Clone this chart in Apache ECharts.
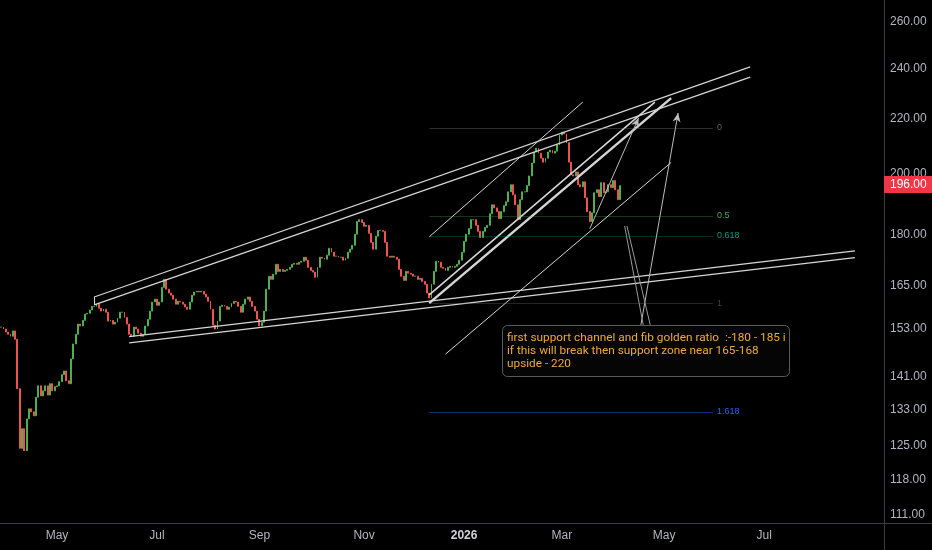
<!DOCTYPE html>
<html>

<head>
    <meta charset="UTF-8">
    <script src="https://cdn.jsdelivr.net/npm/echarts@6/dist/echarts.min.js"></script>
</head>

<body style="margin:0; background-color:#000000;">
    <div id="main" style="height:550px;width:932px"></div>
    <script type="text/javascript">
        // 日收盘价 (从 2025-03-28 起, 每个交易日一根)
        var closes = [
            153.5, 153.0, 152.2, 151.6, 151.1, 152.5, 150.3, 138.0, 124.5, 128.8,
            124.0, 131.0, 133.3, 132.6, 131.7, 136.0, 138.7, 136.3, 137.5, 138.7,
            136.5, 139.2, 137.5, 138.5, 138.7, 139.7, 141.4, 142.3, 139.9, 139.2,
            145.3, 149.1, 151.6, 154.3, 153.8, 155.3, 157.0, 157.2, 158.1, 159.1,
            159.1, 159.7, 158.6, 157.8, 158.3, 157.5, 155.1, 155.3, 154.3, 154.8,
            155.9, 157.5, 157.5, 156.1, 154.3, 151.6, 151.1, 153.5, 153.0, 151.9,
            151.1, 151.6, 153.8, 155.6, 157.8, 160.3, 161.1, 159.4, 160.3, 164.4,
            166.7, 163.9, 162.8, 162.2, 161.1, 159.7, 160.5, 160.3, 159.7, 158.9,
            158.3, 160.3, 162.2, 163.1, 163.3, 163.1, 163.3, 162.5, 161.7, 160.5,
            158.3, 154.0, 153.0, 155.1, 159.1, 159.4, 159.1, 158.3, 158.9, 159.9,
            160.5, 160.3, 159.1, 157.5, 159.7, 161.1, 161.7, 160.5, 159.1, 157.8,
            155.6, 153.8, 154.8, 157.8, 163.9, 167.6, 166.7, 168.2, 171.1, 169.0,
            169.6, 169.0, 169.3, 169.6, 170.2, 171.1, 171.4, 171.1, 171.7, 172.0,
            173.2, 172.3, 170.2, 169.3, 168.8, 167.3, 170.2, 173.2, 172.9, 172.6,
            173.8, 175.9, 174.7, 173.5, 173.5, 173.2, 173.2, 172.3, 172.9, 174.7,
            175.6, 176.8, 180.2, 184.2, 184.8, 183.9, 182.7, 183.0, 180.5, 177.7,
            175.6, 179.6, 181.4, 181.4, 181.1, 177.7, 173.5, 173.2, 173.5, 173.2,
            172.6, 169.6, 167.6, 166.4, 169.0, 168.5, 168.2, 167.6, 167.6, 166.7,
            167.0, 166.1, 165.3, 162.8, 161.4, 165.3, 169.0, 172.0, 171.7, 170.2,
            169.9, 169.3, 170.2, 170.5, 170.2, 170.5, 171.1, 172.3, 174.7, 178.0,
            180.2, 182.0, 184.8, 184.8, 183.0, 181.1, 179.2, 181.1, 182.3, 183.0,
            186.7, 189.6, 188.6, 187.4, 185.1, 187.4, 189.3, 190.6, 193.9, 196.3,
            192.9, 189.6, 184.8, 191.3, 193.9, 193.9, 196.0, 199.3, 203.8, 207.7,
            209.1, 207.3, 205.5, 204.1, 205.5, 207.7, 208.4, 207.3, 208.0, 210.3,
            213.9, 215.0, 214.3, 211.1, 204.1, 199.7, 199.3, 200.7, 196.3, 195.6,
            197.3, 191.9, 187.4, 184.2, 187.0, 193.6, 194.6, 192.3, 197.0, 193.6,
            193.9, 196.3, 195.3, 197.7, 194.6, 191.3, 196.0
        ];
        var lastPrice = 196.00;

        // 价格刻度 / 时间刻度
        var yTicks = [111, 118, 125, 133, 141, 153, 165, 180, 200, 220, 240, 260];
        var xTickDates = ['2025-05-01', '2025-07-01', '2025-09-01', '2025-11-03', '2026-01-01', '2026-03-02', '2026-05-01', '2026-07-01'];
        var xTickText = ['May', 'Jul', 'Sep', 'Nov', '2026', 'Mar', 'May', 'Jul'];

        // 画线: [[bar序号, 价格], [bar序号, 价格]]
        var channelTopA = [[40.3, 161.7], [321.9, 240.6]];
        var channelTopB = [[40.3, 159.5], [321.9, 236.4]];
        var channelEdge = [[40.3, 161.7], [40.3, 159.5]];
        var supportA = [[54.5, 151.0], [367.1, 175.1]];
        var supportB = [[54.5, 149.4], [367.1, 173.1]];
        var riseTop = [[183.6, 179.4], [250.1, 226.4]];
        var riseMidA = [[183.5, 162.3], [281.1, 226.4]];
        var riseMidB = [[184.4, 160.0], [288.4, 228.0]];
        var riseBottom = [[190.8, 146.5], [288.4, 204.0]];
        var arrowUp1 = [[252.7, 181.9], [273.8, 220.3]];
        var arrowUp2 = [[275.1, 154.1], [291.0, 222.2]];
        var pointerA = [[268.2, 182.8], [275.5, 154.1]];
        var pointerB = [[268.9, 182.8], [278.9, 154.1]];

        // 斐波那契回撤
        var fibNames = ['0', '0.5', '0.618', '1', '1.618'];
        var fibPrices = [216.5, 186.0, 179.7, 160.0, 132.6];
        var fibRange = [183.5, 305.6];

        var noteLines = [
            'first support channel and fib golden ratio  :-180 - 185 i',
            'if this will break then support zone near 165-168',
            'upside - 220'
        ];

        // 交易日 (只算周一到周五)
        var barCount = 380;
        var dates = [];
        var d = new Date(2025, 2, 28);
        while (dates.length < barCount) {
            var wd = d.getDay();
            if (wd !== 0 && wd !== 6) {
                var mm = d.getMonth() + 1, dd = d.getDate();
                dates.push(d.getFullYear() + '-' + (mm < 10 ? '0' : '') + mm + '-' + (dd < 10 ? '0' : '') + dd);
            }
            d.setDate(d.getDate() + 1);
        }

        // 对数坐标: 用 ln(价格) 画
        function ln(v) { return Math.log(v); }
        var kData = [];
        for (var i = 0; i < closes.length; i++) {
            var o = i === 0 ? closes[0] : closes[i - 1];
            var c = closes[i];
            kData.push([ln(o), ln(c), ln(Math.min(o, c)), ln(Math.max(o, c))]);
        }

        function seg(line, width, color, arrow) {
            return [
                { coord: [line[0][0], ln(line[0][1])], symbol: 'none', lineStyle: { color: color, width: width, type: 'solid' } },
                { coord: [line[1][0], ln(line[1][1])], symbol: arrow ? 'arrow' : 'none', symbolSize: arrow ? [6, 9] : 0 }
            ];
        }

        var white = '#d6d6d6';
        var marks = [
            seg(channelTopA, 1.2, white), seg(channelTopB, 1.2, white), seg(channelEdge, 1, white),
            seg(supportA, 1.2, white), seg(supportB, 1.2, white),
            seg(riseTop, 1, white), seg(riseMidA, 1.6, white), seg(riseMidB, 2.4, white),
            seg(riseBottom, 1, white),
            seg(arrowUp1, 1, '#bdbdbd', true), seg(arrowUp2, 1, '#bdbdbd', true),
            seg(pointerA, 1, '#9a9a9a'), seg(pointerB, 1, '#9a9a9a')
        ];
        var fibLine = ['rgba(120,123,134,0.35)', 'rgba(76,175,80,0.3)', 'rgba(8,153,129,0.3)', 'rgba(120,123,134,0.3)', 'rgba(41,98,255,0.45)'];
        var fibText = ['#5d606b', '#4caf50', '#089981', '#3f4149', '#2962ff'];
        for (var k = 0; k < fibNames.length; k++) {
            marks.push([
                {
                    coord: [fibRange[0], ln(fibPrices[k])], symbol: 'none',
                    lineStyle: { color: fibLine[k], width: 1, type: 'solid' },
                    label: { show: true, position: 'end', formatter: fibNames[k], color: fibText[k], fontSize: 9, distance: 4, fontFamily: 'Liberation Sans' }
                },
                { coord: [fibRange[1], ln(fibPrices[k])], symbol: 'none' }
            ]);
        }
        // 最新价标签
        marks.push({
            yAxis: ln(lastPrice), symbol: 'none',
            lineStyle: { color: 'rgba(0,0,0,0)', width: 0 },
            label: {
                show: true, position: 'end', distance: 0, formatter: lastPrice.toFixed(2),
                color: '#ffffff', backgroundColor: '#f23645', padding: [3, 6, 2, 6],
                fontSize: 12, fontFamily: 'Liberation Sans'
            }
        });

        var myChart = echarts.init(document.getElementById('main'));

        var option = {
            backgroundColor: '#000000',
            animation: false,
            grid: { left: 0, right: 48, top: 0, bottom: 27 },
            xAxis: {
                type: 'category',
                data: dates,
                boundaryGap: true,
                axisLine: { show: true, lineStyle: { color: '#3a3d45' } },
                axisTick: { show: false },
                splitLine: { show: false },
                axisLabel: {
                    interval: function (idx, value) { return xTickDates.indexOf(value) >= 0; },
                    formatter: function (value) {
                        var t = xTickText[xTickDates.indexOf(value)];
                        return /^\d{4}$/.test(t) ? '{yr|' + t + '}' : t;
                    },
                    color: '#b2b5be',
                    fontSize: 12,
                    fontFamily: 'Liberation Sans',
                    margin: 7,
                    rich: { yr: { fontWeight: 'bold', color: '#d1d4dc', fontSize: 12, fontFamily: 'Liberation Sans' } }
                }
            },
            yAxis: {
                type: 'value',
                position: 'right',
                min: ln(109.44),
                max: ln(270.07),
                axisLine: { show: true, lineStyle: { color: '#3a3d45' } },
                axisTick: { show: false },
                splitLine: { show: false },
                axisLabel: {
                    customValues: yTicks.map(ln),
                    formatter: function (v) { return Math.exp(v).toFixed(2); },
                    color: '#b2b5be',
                    fontSize: 12,
                    fontFamily: 'Liberation Sans',
                    margin: 6
                }
            },
            series: [
                {
                    type: 'candlestick',
                    data: kData,
                    barWidth: '60%',
                    clip: false,
                    itemStyle: {
                        color: '#4caf50', color0: '#ef5350',
                        borderColor: '#4caf50', borderColor0: '#ef5350',
                        borderWidth: 1
                    },
                    markLine: {
                        silent: true,
                        symbol: ['none', 'none'],
                        label: { show: false },
                        lineStyle: { type: 'solid' },
                        data: marks
                    }
                }
            ],
            graphic: [
                { type: 'line', shape: { x1: 884, y1: 523.5, x2: 932, y2: 523.5 }, style: { stroke: '#3a3d45', lineWidth: 1 } },
                { type: 'line', shape: { x1: 884.5, y1: 523, x2: 884.5, y2: 550 }, style: { stroke: '#3a3d45', lineWidth: 1 } },
                {
                    type: 'rect', z: 10,
                    shape: { x: 502.5, y: 325.5, width: 287, height: 51, r: 5 },
                    style: { fill: '#050505', stroke: '#5a5a5a', lineWidth: 1 }
                },
                {
                    type: 'text', z: 11, x: 507, y: 331,
                    style: {
                        text: noteLines.join('\n'),
                        fill: '#eeaa3a',
                        fontSize: 11.8,
                        fontFamily: 'Roboto',
                        lineHeight: 13.3
                    }
                }
            ]
        };

        myChart.setOption(option);
    </script>
</body>

</html>
